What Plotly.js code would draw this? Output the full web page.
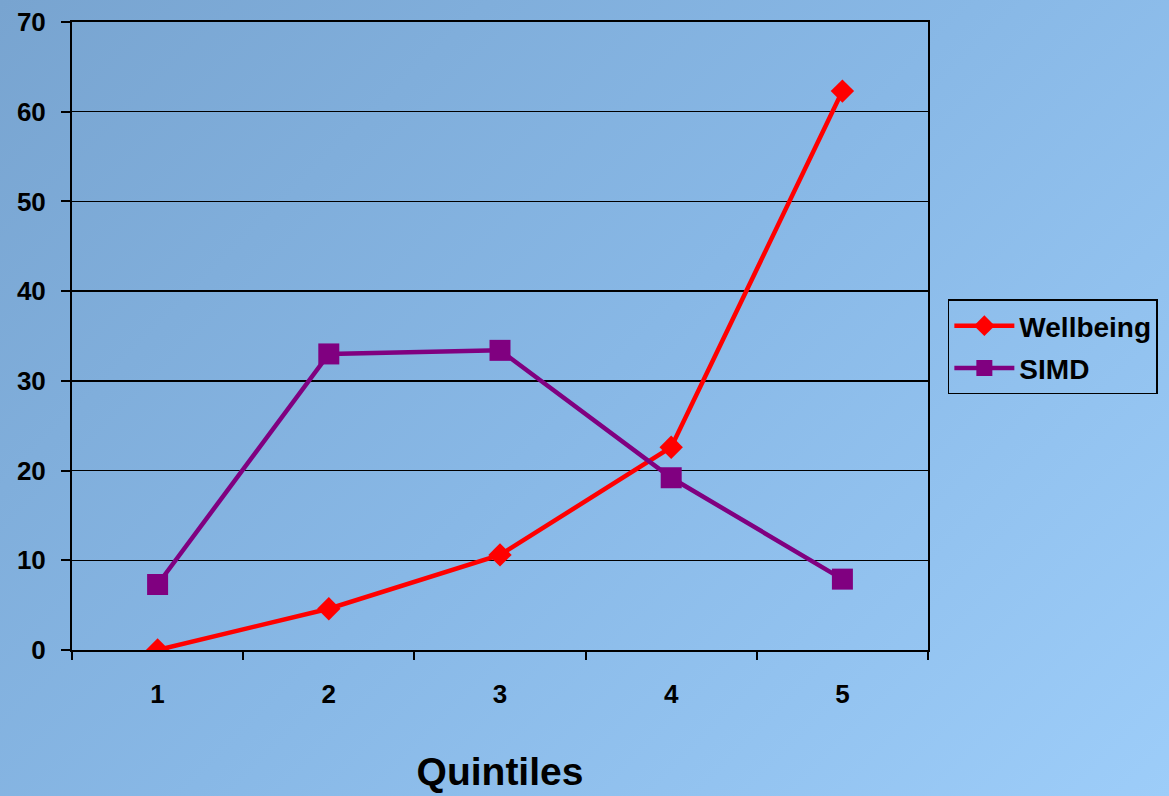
<!DOCTYPE html>
<html>
<head>
<meta charset="utf-8">
<script src="https://cdn.plot.ly/plotly-3.0.1.min.js"></script>
<style>
html, body { margin:0; padding:0; width:1169px; height:796px; overflow:hidden;
  background: linear-gradient(135deg, #78a4d0 0%, #88b8e6 50%, #9dcdf9 100%); }
#chart { width:1169px; height:796px; }
</style>
</head>
<body>
<div id="chart"></div>
<script>
const quintiles = ["1", "2", "3", "4", "5"];
const wellbeing = [0, 4.6, 10.6, 22.6, 62.3];
const simd = [7.3, 33.0, 33.4, 19.2, 7.9];
const yTicks = [0, 10, 20, 30, 40, 50, 60, 70];

const FONT = "Liberation Sans, Arial, sans-serif";

const traces = [
  { x: quintiles, y: wellbeing, name: "Wellbeing", type: "scatter", mode: "lines+markers",
    legendgroup: "a",
    line: { color: "#ff0000", width: 4.5 },
    marker: { symbol: "diamond", size: 18, color: "#ff0000" } },
  { x: quintiles, y: simd, name: "SIMD", type: "scatter", mode: "lines+markers",
    legendgroup: "b",
    line: { color: "#800080", width: 4.5 },
    marker: { symbol: "square", size: 21, color: "#800080" } }
];

const layout = {
  width: 1169, height: 796,
  paper_bgcolor: "rgba(0,0,0,0)",
  plot_bgcolor: "rgba(0,0,0,0)",
  margin: { l: 72, r: 240, t: 22, b: 146 },
  font: { family: FONT, color: "#000000" },
  showlegend: true,
  legend: {
    x: 1.022, y: 0.4825, xanchor: "left", yanchor: "middle",
    bordercolor: "#000000", borderwidth: 1.5, bgcolor: "rgba(0,0,0,0)",
    font: { family: FONT, size: 28, color: "#000000", weight: "bold" },
    itemwidth: 60, tracegroupgap: 3
  },
  xaxis: {
    type: "category", tickson: "boundaries", range: [-0.5, 4.5],
    ticks: "outside", ticklen: 8, tickwidth: 2, tickcolor: "#000000",
    showline: true, linecolor: "#000000", linewidth: 2, mirror: true,
    showgrid: false, zeroline: false,
    tickfont: { family: FONT, size: 26, color: "#000000", weight: "bold" },
    ticklabelstandoff: 20,
    title: { text: "Quintiles", font: { family: FONT, size: 39, color: "#000000", weight: "bold" }, standoff: 49 }
  },
  yaxis: {
    range: [0, 70], tickvals: yTicks, ticktext: yTicks.map(String),
    ticks: "outside", ticklen: 9, tickwidth: 2, tickcolor: "#000000",
    showline: true, linecolor: "#000000", linewidth: 2, mirror: true,
    showgrid: true, gridcolor: "#000000", gridwidth: 1.5,
    zeroline: false,
    tickfont: { family: FONT, size: 26, color: "#000000", weight: "bold" },
    ticklabelstandoff: 10
  }
};

Plotly.newPlot("chart", traces, layout, { displayModeBar: false, staticPlot: true });
</script>
</body>
</html>
